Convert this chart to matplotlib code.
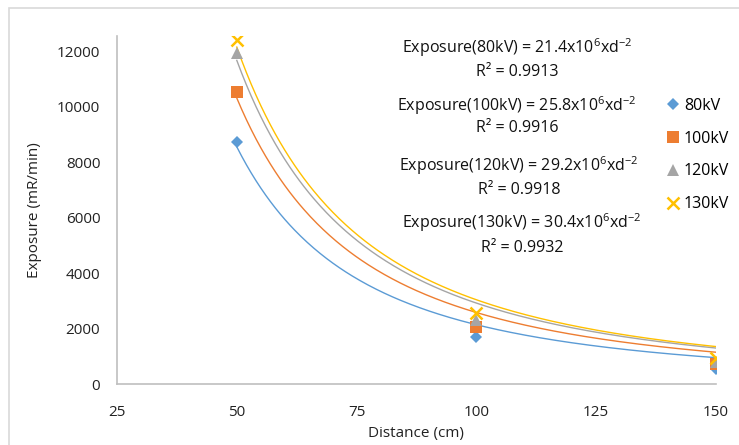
import numpy as np
import matplotlib
matplotlib.use("Agg")
import matplotlib.pyplot as plt
from matplotlib.patches import Rectangle

plt.rcParams['font.family'] = ['Open Sans', 'DejaVu Sans']
plt.rcParams['mathtext.default'] = 'regular'

# Measured exposure at each source distance
distance = [50, 100, 150]
series_names = ['80kV', '100kV', '120kV', '130kV']
exposure_80 = [8750, 1700, 550]
exposure_100 = [10550, 2050, 720]
exposure_120 = [11950, 2300, 800]
exposure_130 = [12400, 2550, 950]

# Inverse-square fit coefficients (x10^6) and R^2 values
fit_coef = [21.4, 25.8, 29.2, 30.4]
r_squared = [0.9913, 0.9916, 0.9918, 0.9932]

x_ticks = [25, 50, 75, 100, 125, 150]
y_ticks = [0, 2000, 4000, 6000, 8000, 10000, 12000]

colors = ['#5B9BD5', '#ED7D31', '#A5A5A5', '#FFC000']
markers = ['D', 's', '^', 'x']
msizes = [6, 9, 8, 9]

W, H = 739, 445
fig = plt.figure(figsize=(W / 100, H / 100), dpi=100)
ax = fig.add_axes([117 / W, 1 - 384 / H, (716 - 117) / W, (384 - 36) / H])

# Outer chart border
fig.patches.append(Rectangle((9 / W, -0.05), 1.0, 1 - 8 / H + 0.05, transform=fig.transFigure,
                             fill=False, edgecolor='#D9D9D9', linewidth=1.2, zorder=0))

all_series = [exposure_80, exposure_100, exposure_120, exposure_130]
d = np.linspace(distance[0], distance[-1], 300)
handles = []
for vals, coef, c, m, ms in zip(all_series, fit_coef, colors, markers, msizes):
    ax.plot(d, coef * 1e6 * d ** -2.0, color=c, linewidth=1.0, zorder=2)
    mew = 1.8 if m == 'x' else 0
    h = ax.plot(distance, vals, linestyle='none', marker=m, markersize=ms, color=c,
                markeredgewidth=mew, zorder=3)[0]
    handles.append(h)

ax.set_xlim(25, 150)
ax.set_ylim(0, 12560)
ax.set_xticks(x_ticks)
ax.set_yticks(y_ticks)
ax.tick_params(length=0, labelsize=11, colors='#222222')
ax.tick_params(axis='y', pad=12)
ax.tick_params(axis='x', pad=15)
for s in ['top', 'right']:
    ax.spines[s].set_visible(False)
for s in ['left', 'bottom']:
    ax.spines[s].set_color('#BFBFBF')
    ax.spines[s].set_linewidth(1.2)

fig.text(35 / W, 1 - 210 / H, 'Exposure (mR/min)', rotation=90, ha='center', va='center',
         fontsize=11, color='#222222')
fig.text(416 / W, 1 - 434 / H, 'Distance (cm)', ha='center', va='center',
         fontsize=11, color='#222222')

# Fit equations
eq_pos = [(517, 48, 72), (517, 106, 128), (519, 166, 190), (522, 223, 248)]
for name, coef, r2, (cx, y1, y2) in zip(series_names, fit_coef, r_squared, eq_pos):
    fig.text(cx / W, 1 - y1 / H, f'Exposure({name}) = {coef}x10$^{{6}}$xd$^{{-2}}$',
             ha='center', va='center', fontsize=11.5, color='#111111')
    fig.text(cx / W, 1 - y2 / H, f'R² = {r2}', ha='center', va='center',
             fontsize=11.5, color='#111111')

fig.legend(handles, series_names, loc='center left', bbox_to_anchor=(660 / W, 1 - 155 / H),
           frameon=False, fontsize=11.5, handlelength=0.8, handletextpad=0.3,
           labelspacing=1.05, borderaxespad=0)

fig.savefig('out.png', dpi=100)
